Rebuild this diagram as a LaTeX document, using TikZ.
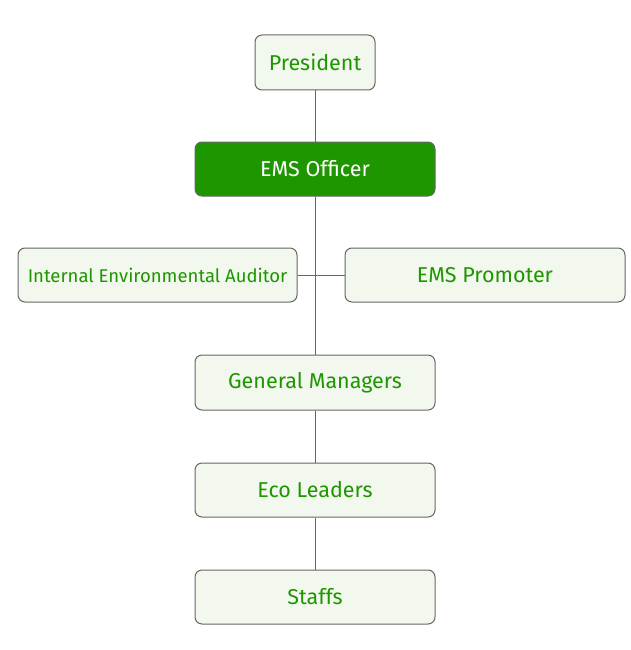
\documentclass[tikz,border=0pt]{standalone}
\usepackage{fontspec}
\setmainfont{Fira Sans}
\definecolor{txtgreen}{HTML}{1E9600}
\definecolor{boxfill}{HTML}{F3F8EE}
\definecolor{boxline}{HTML}{666666}
\definecolor{darkfill}{HTML}{1E9600}
\begin{document}
\begin{tikzpicture}[x=1pt,y=-1pt,
  box/.style={draw=boxline, fill=boxfill, rounded corners=7pt, line width=1pt, text=txtgreen, font=\fontsize{21.5}{24}\selectfont, inner sep=0pt},
  dark/.style={box, fill=darkfill, text=white},
  conn/.style={draw=boxline, line width=1pt}]
\useasboundingbox (0,0) rectangle (630,650);
\node[box, minimum width=120pt, minimum height=55pt] (pres) at (315,62.5) {President};
\node[dark, minimum width=240pt, minimum height=54pt] (ems) at (315,169) {EMS Officer};
\node[box, minimum width=279pt, minimum height=54pt, font=\fontsize{18.5}{21}\selectfont] (aud) at (157.5,275) {Internal Environmental Auditor};
\node[box, minimum width=280pt, minimum height=54pt] (prom) at (485,275) {EMS Promoter};
\node[box, minimum width=240pt, minimum height=55pt] (gm) at (315,382.5) {General Managers};
\node[box, minimum width=240pt, minimum height=54pt] (eco) at (315,490) {Eco Leaders};
\node[box, minimum width=240pt, minimum height=54pt] (staff) at (315,597) {Staffs};
\draw[conn] (pres) -- (ems);
\draw[conn] (ems) -- (gm);
\draw[conn] (aud) -- (prom);
\draw[conn] (gm) -- (eco);
\draw[conn] (eco) -- (staff);
\end{tikzpicture}
\end{document}
